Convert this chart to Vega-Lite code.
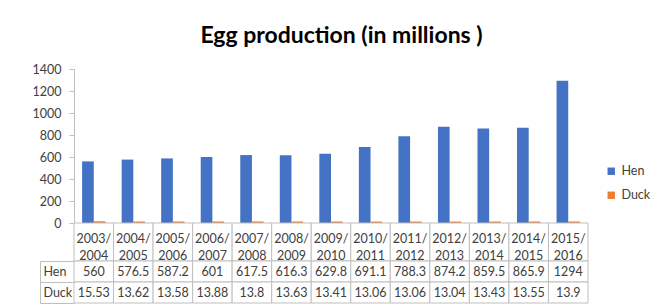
{
  "$schema": "https://vega.github.io/schema/vega-lite/v6.json",
  "background": "white",
  "padding": {"left": 32, "top": 25, "right": 5, "bottom": 0},
  "bounds": "flush",
  "title": {"text": "Egg production (in millions )", "fontSize": 23, "font": "Lato", "fontWeight": "bold", "color": "#000000", "anchor": "middle", "offset": 15},
  "config": {"font": "Lato", "view": {"stroke": null}},
  "spacing": 0,
  "datasets": {
    "eggs": [
      {"year": "2003/ 2004", "series": "Hen", "value": 560},
      {"year": "2003/ 2004", "series": "Duck", "value": 15.53},
      {"year": "2004/ 2005", "series": "Hen", "value": 576.5},
      {"year": "2004/ 2005", "series": "Duck", "value": 13.62},
      {"year": "2005/ 2006", "series": "Hen", "value": 587.2},
      {"year": "2005/ 2006", "series": "Duck", "value": 13.58},
      {"year": "2006/ 2007", "series": "Hen", "value": 601},
      {"year": "2006/ 2007", "series": "Duck", "value": 13.88},
      {"year": "2007/ 2008", "series": "Hen", "value": 617.5},
      {"year": "2007/ 2008", "series": "Duck", "value": 13.8},
      {"year": "2008/ 2009", "series": "Hen", "value": 616.3},
      {"year": "2008/ 2009", "series": "Duck", "value": 13.63},
      {"year": "2009/ 2010", "series": "Hen", "value": 629.8},
      {"year": "2009/ 2010", "series": "Duck", "value": 13.41},
      {"year": "2010/ 2011", "series": "Hen", "value": 691.1},
      {"year": "2010/ 2011", "series": "Duck", "value": 13.06},
      {"year": "2011/ 2012", "series": "Hen", "value": 788.3},
      {"year": "2011/ 2012", "series": "Duck", "value": 13.06},
      {"year": "2012/ 2013", "series": "Hen", "value": 874.2},
      {"year": "2012/ 2013", "series": "Duck", "value": 13.04},
      {"year": "2013/ 2014", "series": "Hen", "value": 859.5},
      {"year": "2013/ 2014", "series": "Duck", "value": 13.43},
      {"year": "2014/ 2015", "series": "Hen", "value": 865.9},
      {"year": "2014/ 2015", "series": "Duck", "value": 13.55},
      {"year": "2015/ 2016", "series": "Hen", "value": 1294},
      {"year": "2015/ 2016", "series": "Duck", "value": 13.9}
    ]
  },
  "data": {"name": "eggs"},
  "vconcat": [
    {
      "width": 514,
      "height": 154,
      "mark": {"type": "bar"},
      "encoding": {
        "x": {"field": "year", "type": "nominal", "sort": null, "scale": {"paddingInner": 0.41, "paddingOuter": 0.205}, "axis": null},
        "xOffset": {"field": "series", "type": "nominal", "sort": ["Hen", "Duck"], "scale": {"paddingInner": 0, "paddingOuter": 0}},
        "y": {"field": "value", "type": "quantitative", "scale": {"domain": [0, 1400]}, "axis": {"title": null, "grid": false, "format": "d", "values": [0, 200, 400, 600, 800, 1000, 1200, 1400], "domainColor": "#bfbfbf", "tickColor": "#bfbfbf", "tickSize": 5, "labelFontSize": 12.5, "labelColor": "#404040", "labelPadding": 8}},
        "color": {"field": "series", "type": "nominal", "sort": ["Hen", "Duck"], "scale": {"domain": ["Hen", "Duck"], "range": ["#4472C4", "#ED7D31"]}, "legend": {"title": null, "orient": "none", "legendX": 531, "legendY": 96, "symbolType": "square", "symbolSize": 55, "symbolStrokeWidth": 0, "labelFontSize": 12.5, "labelColor": "#404040", "rowPadding": 11}}
      }
    },
    {
      "width": 514,
      "height": 38,
      "transform": [{"filter": "datum.series === 'Hen'"}],
      "encoding": {
        "x": {"field": "year", "type": "nominal", "sort": null, "scale": {"paddingInner": 0, "paddingOuter": 0}, "axis": null}
      },
      "layer": [
        {"mark": {"type": "rect", "fill": "white", "stroke": "#bfbfbf", "strokeWidth": 1}},
        {"mark": {"type": "text", "fontSize": 12.5, "color": "#404040", "lineBreak": " ", "lineHeight": 16.5, "dy": -3}, "encoding": {"text": {"field": "year", "type": "nominal"}}}
      ]
    },
    {
      "width": 514,
      "height": 42,
      "encoding": {
        "x": {"field": "year", "type": "nominal", "sort": null, "scale": {"paddingInner": 0, "paddingOuter": 0}, "axis": null},
        "y": {"field": "series", "type": "nominal", "sort": ["Hen", "Duck"], "scale": {"paddingInner": 0, "paddingOuter": 0}, "axis": {"title": null, "orient": "left", "domain": true, "domainColor": "#bfbfbf", "offset": 34, "ticks": true, "tickSize": -34, "bandPosition": 0, "tickColor": "#bfbfbf", "labelAlign": "left", "labelPadding": 31, "labelFontSize": 12.5, "labelColor": "#404040"}}
      },
      "layer": [
        {"mark": {"type": "rect", "fill": "white", "stroke": "#bfbfbf", "strokeWidth": 1}},
        {"mark": {"type": "text", "fontSize": 12.5, "color": "#404040"}, "encoding": {"text": {"field": "value", "type": "nominal"}, "y": {"field": "series", "type": "nominal", "sort": ["Hen", "Duck"], "axis": {"title": null, "orient": "left", "domain": false, "offset": 34, "ticks": true, "tickSize": -34, "bandPosition": 1, "tickColor": "#bfbfbf", "labels": false}}}}
      ],
      "resolve": {"axis": {"y": "independent"}}
    }
  ]
}
